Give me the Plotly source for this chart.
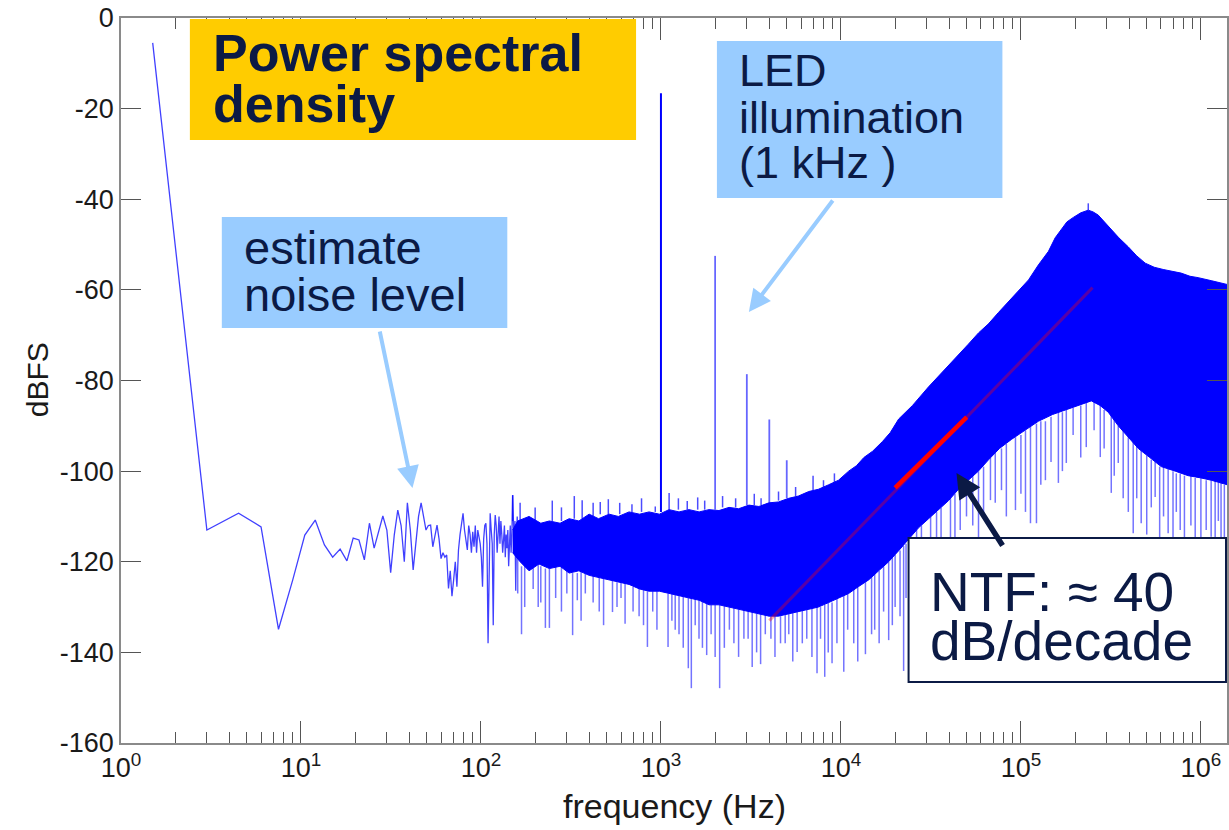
import plotly.graph_objects as go

# ---------------- data ----------------
# sparse low-frequency part of the spectrum (Hz, dBFS)
low_f = [1.5, 3, 4.5, 6, 7.5, 9, 10.5, 12, 13.5, 15, 16.5, 18, 19.5, 21, 22.5, 24, 25.5, 27,
         28.5, 30, 31.5, 33, 34.5, 36, 37.5, 39, 40.5, 42, 43.5, 45, 46.5, 48, 49.5, 51, 52.5,
         54, 55.5, 57, 58.5, 60, 61.5, 63, 64.5, 66, 67.5, 69, 70.5, 72, 73.5, 75, 76.5, 78,
         79.5, 81, 82.5, 84, 85.5, 87, 88.5, 90, 91.5, 93, 94.5, 96, 97.5, 99, 100.5, 102,
         103.5, 105, 106.5, 108, 109.5, 111, 112.5, 114, 115.5, 117, 118.5, 120, 121.5, 123,
         124.5, 126, 127.5, 129, 130.5, 132, 133.5, 135, 136.5, 138, 139.5, 141, 142.5, 144,
         145.5, 147, 148.5, 150, 151.5, 153, 154.5, 156, 157.5, 159, 160.5, 162]
low_db = [-5.5, -113.0, -109.3, -112.3, -134.9, -124.0, -114.1, -110.8, -116.3, -119.0, -117.2,
          -119.8, -114.8, -115.2, -119.6, -111.5, -117.0, -113.5, -109.9, -113.0, -122.4, -114.0,
          -108.6, -112.0, -120.0, -107.0, -113.0, -121.8, -116.0, -110.0, -107.0, -110.0, -113.0,
          -112.0, -111.9, -116.7, -114.0, -111.9, -115.0, -119.3, -118.0, -119.0, -118.5, -125.9,
          -122.0, -127.6, -124.0, -120.0, -125.5, -117.4, -114.0, -111.0, -109.3, -113.0, -116.0,
          -117.4, -112.0, -114.0, -118.0, -113.4, -116.7, -112.0, -118.0, -113.0, -114.5, -116.0,
          -119.0, -125.5, -115.0, -112.0, -111.5, -116.0, -138.0, -117.0, -109.3, -113.0, -116.0,
          -134.0, -114.0, -109.7, -112.0, -118.0, -113.0, -110.0, -116.0, -111.0, -114.0, -118.0,
          -115.2, -112.0, -119.0, -114.0, -117.0, -113.0, -121.0, -115.0, -112.0, -118.0, -114.0,
          -105.3, -113.0, -117.0, -111.0, -126.4, -114.0, -110.0, -118.0, -112.0]

# dense noise band: upper edge
band_hi_f = [150, 160, 185, 215, 240, 275, 309, 350, 399, 450, 515, 580, 665, 760, 859, 980,
             1109, 1260, 1432, 1630, 1849, 2100, 2388, 2700, 3083, 3500, 3981, 4500, 5131, 5800,
             6625, 7500, 8554, 9700, 11040, 12200, 13410, 15000, 16980, 18800, 20930, 25000,
             30690, 37000, 44990, 51000, 58130, 66000, 75020, 90000, 110200, 125000, 142200,
             155000, 167900, 180000, 195600, 215000, 236700, 252000, 268900, 290000, 317700,
             350000, 394700, 440000, 490400, 550000, 617100, 700000, 776700, 870000, 964700,
             1150000, 1397000]
band_hi_db = [-113.0, -111.0, -110.0, -111.5, -111.0, -111.5, -110.5, -111.0, -109.5, -110.5,
              -109.5, -110.0, -109.0, -109.5, -109.0, -109.5, -108.5, -109.0, -108.5, -109.0,
              -108.5, -108.7, -108.0, -108.3, -107.5, -107.8, -107.0, -106.8, -106.0, -105.5,
              -104.5, -104.0, -103.0, -102.0, -100.0, -98.8, -97.0, -95.6, -93.5, -91.5, -88.5,
              -85.5, -81.4, -78.0, -74.5, -72.0, -69.5, -67.5, -65.0, -61.5, -57.8, -54.5, -51.5,
              -48.5, -46.5, -45.0, -44.0, -43.0, -42.4, -42.8, -43.5, -45.0, -46.8, -48.5, -50.5,
              -52.5, -54.1, -55.0, -55.5, -56.0, -56.3, -57.0, -57.3, -58.0, -58.8]
# dense noise band: lower edge
band_lo_f = [150, 165, 185, 210, 240, 275, 309, 350, 399, 450, 515, 580, 665, 760, 859, 980,
             1109, 1260, 1432, 1630, 1849, 2100, 2388, 2700, 3083, 3500, 3981, 4500, 5131, 5800,
             6625, 7500, 8554, 9700, 11040, 12500, 14260, 16200, 18410, 21000, 23770, 27000,
             30690, 35000, 39630, 45000, 51170, 58000, 66070, 76000, 88570, 105000, 125000,
             150000, 176600, 210000, 246200, 275000, 305700, 347400, 395000, 448600, 520000,
             601600, 720000, 849000, 1000000, 1140000, 1397000]
band_lo_db = [-118.0, -120.0, -122.0, -120.5, -121.5, -121.0, -122.5, -122.0, -123.0, -123.5,
              -124.0, -124.5, -125.0, -126.0, -126.5, -126.5, -127.0, -127.5, -128.0, -128.5,
              -129.5, -129.5, -130.0, -130.5, -131.0, -131.5, -132.0, -132.0, -131.5, -131.0,
              -130.5, -130.0, -129.0, -128.0, -127.0, -125.5, -124.0, -122.0, -120.0, -117.5,
              -115.0, -112.5, -110.5, -108.5, -106.5, -104.0, -102.0, -100.0, -97.5, -95.0,
              -93.0, -91.0, -89.0, -87.5, -86.5, -85.5, -84.5, -85.5, -87.0, -90.0, -92.5,
              -95.0, -97.0, -99.0, -100.0, -101.0, -101.5, -102.0, -103.0]

# downward noise spikes: frequency, start (band edge) and tip
dn_f = [160, 168, 175, 195, 208, 215, 228, 240, 260, 280, 300, 323, 343, 360, 380, 420, 454,
        480, 538, 570, 600, 632, 700, 756, 800, 841, 900, 950, 1095, 1150, 1200, 1260, 1330,
        1419, 1475, 1550, 1627, 1700, 1795, 1900, 2000, 2119, 2250, 2400, 2543, 2700, 2890,
        3050, 3213, 3400, 3578, 3800, 4083, 4300, 4617, 4900, 5131, 5400, 5710, 6100, 6459,
        6900, 7365, 7700, 8127, 8500, 8926, 9500, 10370, 10900, 11780, 12400, 13680, 14800,
        15400, 16300, 17260, 18420, 19300, 20000, 21300, 22300, 23000, 26320, 28000, 31500,
        33980, 36000, 40610, 43000, 46000, 49850, 54000, 58130, 62000, 67730, 72000, 77990,
        83000, 93250, 100000, 106000, 113000, 122000, 129000, 136800, 147000, 161500, 170000,
        178700, 195000, 215000, 230700, 255000, 276000, 290000, 317700, 330000, 347400,
        370000, 395000, 420700, 440000, 465900, 500000, 530000, 557000, 590000, 620000,
        657700, 700000, 730000, 767300, 810000, 880000, 929500, 1000000, 1070000, 1140000,
        1200000, 1250000, 1294000, 1350000]
dn_from = [-119.0, -121.0, -120.0, -120.0, -120.5, -121.0, -121.5, -121.5, -121.0, -121.0,
           -122.0, -122.5, -122.5, -122.0, -122.5, -123.0, -123.5, -123.5, -124.0, -124.5,
           -124.5, -124.5, -125.5, -126.0, -126.0, -126.5, -126.5, -126.5, -127.0, -127.0,
           -127.0, -127.5, -127.5, -128.0, -128.0, -128.0, -128.5, -128.5, -129.0, -129.5,
           -129.5, -129.5, -129.5, -130.0, -130.0, -130.5, -130.5, -131.0, -131.0, -131.5,
           -131.5, -131.5, -132.0, -132.0, -132.0, -131.5, -131.5, -131.0, -131.0, -130.5,
           -130.5, -130.0, -130.0, -130.0, -129.5, -129.0, -129.0, -128.0, -127.0, -127.0,
           -126.0, -125.5, -124.5, -123.0, -122.5, -122.0, -121.0, -120.0, -119.0, -118.5,
           -117.5, -116.5, -116.0, -113.0, -112.0, -110.0, -109.0, -108.0, -106.0, -105.0,
           -104.0, -102.0, -101.0, -100.0, -99.0, -97.0, -96.0, -95.0, -94.0, -92.5, -92.0,
           -91.0, -90.0, -89.5, -89.0, -89.0, -88.0, -87.0, -87.0, -86.5, -86.0, -85.5, -84.5,
           -84.5, -85.5, -86.5, -87.0, -88.0, -90.0, -91.0, -92.5, -93.5, -94.5, -95.5, -96.5,
           -97.5, -98.0, -99.0, -99.0, -99.5, -100.0, -100.5, -100.5, -101.0, -101.0, -101.5,
           -101.5, -102.0, -102.0, -102.0, -102.5, -102.5, -103.0]
dn_to = [-127.0, -136.0, -130.0, -126.0, -130.0, -129.0, -134.6, -134.6, -128.0, -131.0,
         -127.0, -136.2, -128.5, -133.0, -127.0, -129.0, -131.0, -134.0, -131.1, -130.0,
         -128.0, -133.7, -131.0, -132.0, -134.0, -138.8, -131.0, -135.0, -138.8, -133.0,
         -135.0, -136.0, -139.0, -143.5, -147.9, -134.0, -137.0, -139.0, -140.6, -136.0,
         -141.0, -147.9, -139.0, -135.0, -138.0, -141.0, -137.0, -137.0, -143.2, -140.0,
         -142.6, -136.0, -137.0, -141.0, -138.0, -138.0, -136.0, -142.0, -139.9, -138.0,
         -137.0, -141.0, -144.6, -137.0, -145.4, -140.0, -142.4, -138.0, -144.3, -135.0,
         -138.0, -142.0, -140.4, -136.0, -135.0, -138.0, -131.0, -137.3, -134.0, -130.0,
         -132.0, -144.1, -128.0, -125.0, -124.0, -121.0, -125.0, -119.0, -122.0, -116.0,
         -113.0, -110.0, -112.0, -120.0, -110.0, -106.4, -107.0, -104.2, -110.0, -108.6,
         -105.0, -109.0, -111.5, -111.5, -103.0, -102.0, -98.0, -102.6, -100.0, -98.2, -92.0,
         -97.0, -94.7, -91.0, -96.9, -95.0, -104.8, -101.0, -98.2, -106.0, -109.0, -113.7,
         -106.0, -111.5, -114.0, -108.0, -105.7, -116.0, -110.0, -113.7, -116.0, -109.0,
         -113.0, -116.0, -112.0, -116.0, -116.0, -113.0, -114.5, -116.0, -111.0, -116.8,
         -116.0]

# upward noise spikes
up_f = [150, 165, 200, 249, 280, 330, 365, 420, 460, 510, 590, 690, 780, 930, 1110, 1250,
        1400, 1600, 1750, 2200, 2600, 3300, 3600, 4500, 5600, 7000, 8000, 9200, 236700]
up_from = [-111.0, -112.0, -111.0, -111.0, -111.0, -110.5, -110.5, -110.0, -109.5, -109.5,
           -109.5, -109.0, -109.0, -109.0, -108.5, -108.5, -108.5, -108.5, -108.5, -108.0,
           -108.0, -107.5, -107.5, -106.5, -105.5, -104.2, -103.5, -102.5, -42.4]
up_to = [-105.3, -107.0, -108.0, -106.5, -108.0, -105.5, -106.4, -107.0, -106.8, -106.2,
         -107.0, -107.3, -106.0, -107.8, -104.8, -106.0, -106.6, -105.8, -106.5, -105.5,
         -106.0, -105.0, -106.0, -104.5, -103.5, -101.0, -102.0, -100.5, -40.9]

# LED illumination tone and harmonics
tone_f = [1000, 2000, 3000, 4000, 5000]
tone_from = [-109.0, -108.5, -107.5, -107.0, -106.0]
tone_to = [-16.6, -52.5, -78.6, -88.6, -97.6]

# 40 dB/decade NTF guide line and highlighted segment
ntf_f = [4000, 250000]
ntf_db = [-133.0, -59.5]
ntf_hl_f = [20000, 50000]
ntf_hl_db = [-103.7, -88.1]

x_tickvals = [1, 10, 100, 1000, 10000, 100000, 1000000]
x_ticktext = ["10<sup>0</sup>", "10<sup>1</sup>", "10<sup>2</sup>", "10<sup>3</sup>",
              "10<sup>4</sup>", "10<sup>5</sup>", "10<sup>6</sup>"]
y_tickvals = [0, -20, -40, -60, -80, -100, -120, -140, -160]
y_ticktext = ["0", "-20", "-40", "-60", "-80", "-100", "-120", "-140", "-160"]

# ---------------- helpers ----------------
def segments(fs, a, b):
    xs, ys = [], []
    for f, y0, y1 in zip(fs, a, b):
        xs += [f, f, None]
        ys += [y0, y1, None]
    return xs, ys

BLUE = "#0000ff"
NAVY = "#0b1a45"
FONT = "Liberation Sans, Arial, sans-serif"

fig = go.Figure()

# band
fig.add_trace(go.Scatter(x=band_lo_f, y=band_lo_db, mode="lines",
                         line=dict(color=BLUE, width=1), hoverinfo="skip"))
fig.add_trace(go.Scatter(x=band_hi_f, y=band_hi_db, mode="lines", fill="tonexty",
                         fillcolor=BLUE, line=dict(color=BLUE, width=1), hoverinfo="skip"))

sx, sy = segments(dn_f, dn_from, dn_to)
fig.add_trace(go.Scatter(x=sx, y=sy, mode="lines",
                         line=dict(color="rgba(0,0,255,0.55)", width=1.5), hoverinfo="skip"))
sx, sy = segments(up_f, up_from, up_to)
fig.add_trace(go.Scatter(x=sx, y=sy, mode="lines",
                         line=dict(color="rgba(0,0,255,0.7)", width=1.5), hoverinfo="skip"))
sx, sy = segments(tone_f[:1], tone_from[:1], tone_to[:1])
fig.add_trace(go.Scatter(x=sx, y=sy, mode="lines", line=dict(color=BLUE, width=2),
                         hoverinfo="skip"))
sx, sy = segments(tone_f[1:], tone_from[1:], tone_to[1:])
fig.add_trace(go.Scatter(x=sx, y=sy, mode="lines",
                         line=dict(color="rgba(0,0,255,0.6)", width=1.8), hoverinfo="skip"))

fig.add_trace(go.Scatter(x=low_f, y=low_db, mode="lines",
                         line=dict(color="rgba(0,0,255,0.75)", width=1.3), hoverinfo="skip"))

fig.add_trace(go.Scatter(x=ntf_f, y=ntf_db, mode="lines",
                         line=dict(color="rgba(255,0,0,0.35)", width=3), hoverinfo="skip"))
fig.add_trace(go.Scatter(x=ntf_hl_f, y=ntf_hl_db, mode="lines",
                         line=dict(color="#ff0000", width=4.5), hoverinfo="skip"))

# ---------------- layout ----------------
L, R, T, B = 121, 0, 18, 87
W, H = 1229, 830
PW, PH = W - L - R, H - T - B


def px(x):
    return (x - L) / PW


def py(y):
    return (H - B - y) / PH


minor_vals = [m * 10 ** e for e in range(0, 7) for m in range(2, 10)]

fig.update_layout(
    width=W, height=H, margin=dict(l=L, r=R, t=T, b=B, pad=0),
    paper_bgcolor="white", plot_bgcolor="white", showlegend=False,
    font=dict(family=FONT, color="#1a1a1a"),
    xaxis=dict(type="log", range=[0, 6.145], showgrid=False, zeroline=False,
               showline=True, linecolor="#8a8a8a", linewidth=1.5, mirror="ticks",
               ticks="inside", ticklen=22, tickwidth=1.3, tickcolor="#555555",
               tickvals=x_tickvals, ticktext=x_ticktext,
               tickfont=dict(size=27, color="#1a1a1a", family=FONT),
               minor=dict(tickvals=minor_vals, ticks="inside", ticklen=11,
                          tickwidth=1.1, tickcolor="#555555", showgrid=False)),
    yaxis=dict(range=[-160, 0], showgrid=False, zeroline=False,
               showline=True, linecolor="#8a8a8a", linewidth=1.5, mirror="ticks",
               ticks="inside", ticklen=20, tickwidth=1.3, tickcolor="#555555",
               tickvals=y_tickvals, ticktext=y_ticktext,
               tickfont=dict(size=27, color="#1a1a1a", family=FONT)),
)

shapes = [
    dict(type="rect", xref="paper", yref="paper", x0=px(190), x1=px(637), y0=py(140), y1=py(19),
         fillcolor="#ffcc00", line=dict(width=0), layer="above"),
    dict(type="rect", xref="paper", yref="paper", x0=px(222), x1=px(508), y0=py(328), y1=py(217),
         fillcolor="#99ccff", line=dict(width=0), layer="above"),
    dict(type="rect", xref="paper", yref="paper", x0=px(718), x1=px(1004), y0=py(198), y1=py(41),
         fillcolor="#99ccff", line=dict(width=0), layer="above"),
    dict(type="rect", xref="paper", yref="paper", x0=px(910), x1=px(1228), y0=py(682), y1=py(538),
         fillcolor="white", line=dict(width=2, color=NAVY), layer="above"),
]
fig.update_layout(shapes=shapes)


def txt(s, x, y, size, bold=False):
    return dict(text=("<b>%s</b>" % s) if bold else s, xref="paper", yref="paper",
                x=px(x), y=py(y), xanchor="left", yanchor="middle", showarrow=False,
                font=dict(size=size, color=NAVY, family=FONT))


def arrow(tx, ty, hx, hy, color, width, size):
    return dict(text="", xref="paper", yref="paper", x=px(hx), y=py(hy),
                ax=tx - hx, ay=ty - hy, axref="pixel", ayref="pixel", showarrow=True,
                arrowhead=2, arrowsize=size, arrowwidth=width, arrowcolor=color)


annotations = [
    txt("Power spectral", 211, 53, 52, bold=True),
    txt("density", 211, 104, 52, bold=True),
    txt("estimate", 242, 248, 47),
    txt("noise level", 242, 294, 47),
    txt("LED", 738, 71, 45),
    txt("illumination", 738, 117, 45),
    txt("(1 kHz )", 738, 162, 45),
    txt("NTF: \u2248 40", 929, 592, 55),
    txt("dB/decade", 929, 641, 55),
    arrow(380, 330, 413, 488, "#99ccff", 4, 1.1),
    arrow(835, 199, 750, 312, "#99ccff", 4, 1.1),
    arrow(1005, 547, 958, 473, NAVY, 5.5, 0.9),
    dict(text="frequency (Hz)", xref="paper", yref="paper", x=px(676), y=py(806),
         xanchor="center", yanchor="middle", showarrow=False,
         font=dict(size=34, color="#1a1a1a", family=FONT)),
    dict(text="dBFS", xref="paper", yref="paper", x=px(37), y=py(380), textangle=-90,
         xanchor="center", yanchor="middle", showarrow=False,
         font=dict(size=30, color="#1a1a1a", family=FONT)),
]
fig.update_layout(annotations=annotations)

fig.write_html("out.html")
